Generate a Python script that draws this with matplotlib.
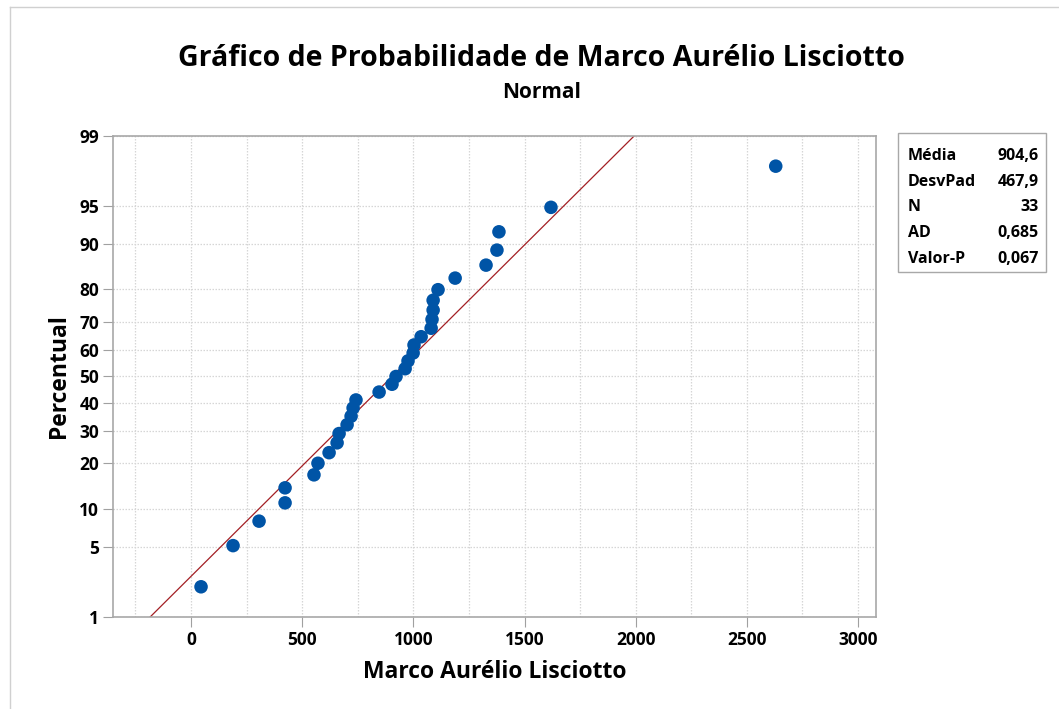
import matplotlib
matplotlib.use("Agg")
import matplotlib.pyplot as plt
from matplotlib.patches import Rectangle
from statistics import NormalDist
import numpy as np

plt.rcParams['font.family'] = ['Open Sans', 'DejaVu Sans']

valores = [45, 189, 306, 423, 423, 553, 571, 621, 657, 666, 702, 720, 729, 742,
           846, 904, 922, 963, 976, 999, 1003, 1035, 1080, 1084, 1089, 1089,
           1111, 1188, 1327, 1376, 1385, 1619, 2630]
media = 904.6
desvpad = 467.9
estat_nomes = ['Média', 'DesvPad', 'N', 'AD', 'Valor-P']
estat_valores = ['904,6', '467,9', '33', '0,685', '0,067']
y_ticks = [1, 5, 10, 20, 30, 40, 50, 60, 70, 80, 90, 95, 99]
x_ticks = [0, 500, 1000, 1500, 2000, 2500, 3000]

nd = NormalDist()
n = len(valores)
# median ranks (Benard)
pct = [(i - 0.3) / (n + 0.4) for i in range(1, n + 1)]
z = [nd.inv_cdf(p) for p in pct]

fig = plt.figure(figsize=(10.59, 7.09), dpi=100)
ax = fig.add_axes([0.1067, 0.1298, 0.7205, 0.6784])

# fitted line from 1% to 99%
z_lo, z_hi = nd.inv_cdf(0.01), nd.inv_cdf(0.99)
ax.plot([media + desvpad * z_lo, media + desvpad * z_hi], [z_lo, z_hi],
        color='#a31f24', lw=0.9, zorder=2)
ax.scatter(valores, z, s=95, color='#0054a6', edgecolors='none', zorder=3)

ax.set_xlim(-351, 3081)
ax.set_ylim(z_lo, z_hi)
ax.set_xticks(x_ticks)
ax.set_xticks(np.arange(-250, 3001, 250), minor=True)
ax.set_yticks([nd.inv_cdf(t / 100) for t in y_ticks])
ax.set_yticklabels([str(t) for t in y_ticks])
ax.tick_params(axis='both', which='major', length=7, color='#a0a0a0',
               labelsize=12.5, pad=3)
ax.tick_params(axis='x', which='minor', length=0)
for lab in ax.get_xticklabels() + ax.get_yticklabels():
    lab.set_fontweight('bold')

ax.grid(True, which='both', axis='x', color='#d6d6d6', ls=(0, (1.2, 1.2)), lw=0.9)
ax.grid(True, which='major', axis='y', color='#d6d6d6', ls=(0, (1.2, 1.2)), lw=0.9)
ax.set_axisbelow(True)
for sp in ax.spines.values():
    sp.set_color('#a8a8a8')
    sp.set_linewidth(1.2)

ax.set_xlabel('Marco Aurélio Lisciotto', fontsize=16.5, fontweight='bold', labelpad=8)
ax.set_ylabel('Percentual', fontsize=16.5, fontweight='bold', labelpad=6)

fig.text(0.511, 0.917, 'Gráfico de Probabilidade de Marco Aurélio Lisciotto',
         ha='center', va='center', fontsize=20.5, fontweight='bold')
fig.text(0.511, 0.870, 'Normal', ha='center', va='center', fontsize=15,
         fontweight='bold')

# stats box
bx0, by0, bx1, by1 = 898 / 1059, 1 - 272 / 709, 1046 / 1059, 1 - 133 / 709
fig.patches.append(Rectangle((bx0, by0), bx1 - bx0, by1 - by0, transform=fig.transFigure,
                             fill=False, edgecolor='#a8a8a8', lw=1.0))
for k, (nome, val) in enumerate(zip(estat_nomes, estat_valores)):
    yy = 1 - (156 + k * 25.7) / 709
    fig.text(908 / 1059, yy, nome, ha='left', va='center', fontsize=11.5,
             fontweight='bold')
    fig.text(1039 / 1059, yy, val, ha='right', va='center', fontsize=11.5,
             fontweight='bold')

# outer frame (left/top edges)
fig.add_artist(plt.Line2D([10 / 1059, 10 / 1059], [0, 1 - 7 / 709],
                          transform=fig.transFigure, color='#d0d0d0', lw=1))
fig.add_artist(plt.Line2D([10 / 1059, 1], [1 - 7 / 709, 1 - 7 / 709],
                          transform=fig.transFigure, color='#d0d0d0', lw=1))

fig.savefig('out.png', dpi=100)
